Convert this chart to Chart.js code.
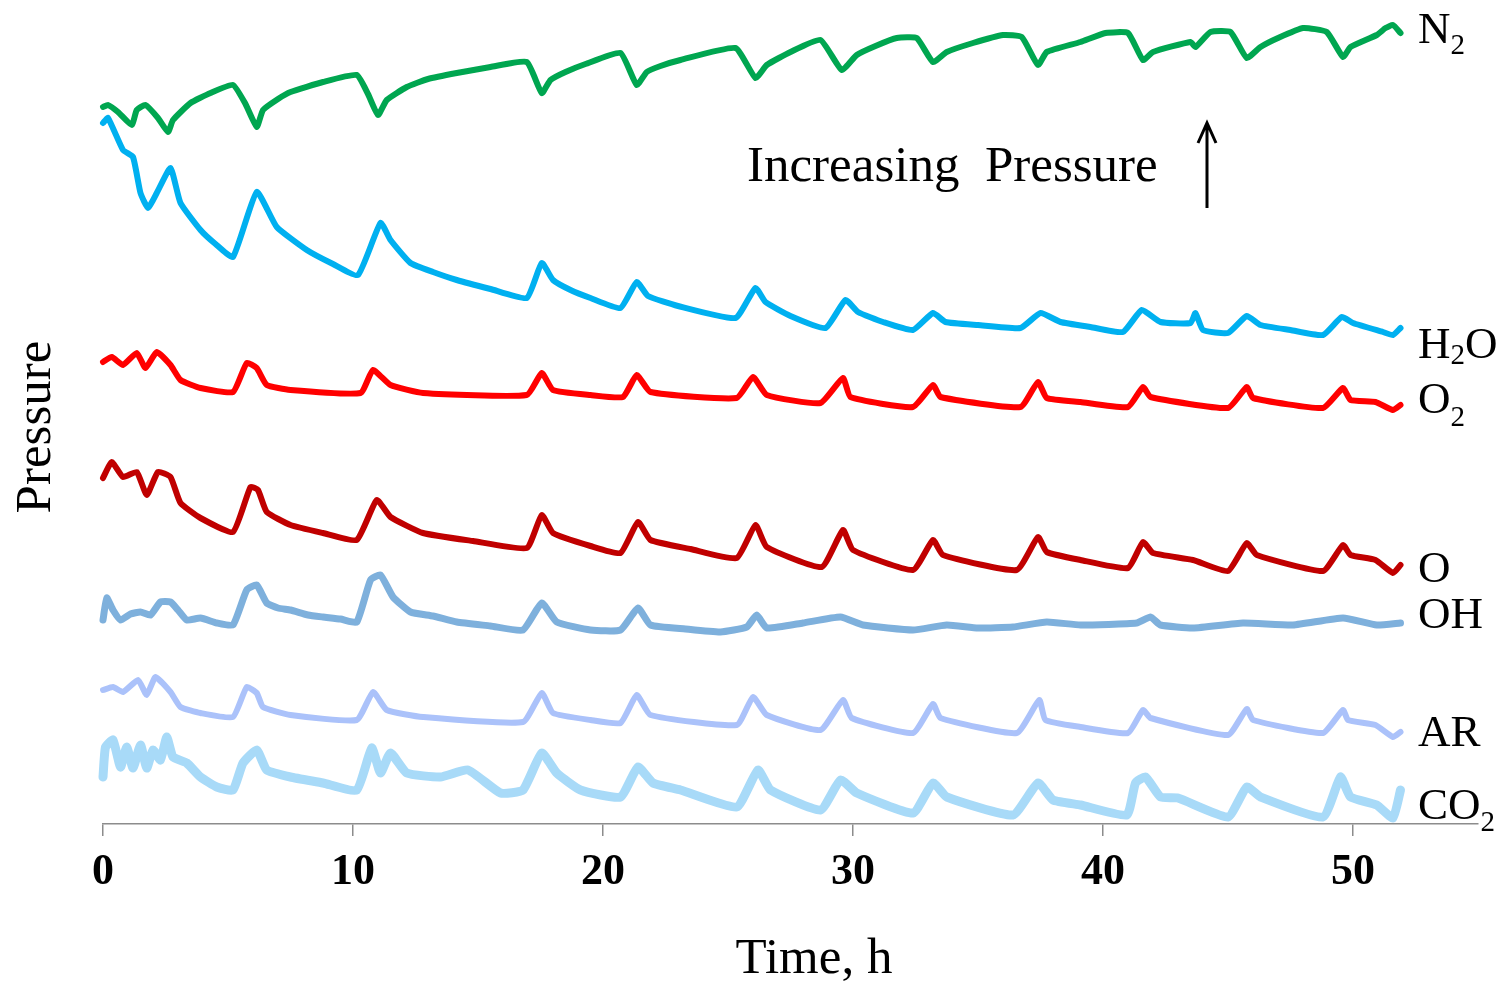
<!DOCTYPE html>
<html><head><meta charset="utf-8">
<script src="https://cdn.jsdelivr.net/npm/chart.js@4.4.0/dist/chart.umd.min.js"></script>
<style>html,body{margin:0;padding:0;background:#fff}canvas{display:block}</style>
</head><body>
<canvas id="c" width="1499" height="983"></canvas>
<script>
// Time axis (h)
const xTicks = [0, 10, 20, 30, 40, 50];

// Series (arbitrary pressure units), time in hours
const n2T = [0,0.2,0.6,1.15,1.35,1.7,2.2,2.6,2.8,3.5,4.3,5.2,5.7,6.15,6.4,7.0,7.5,8.8,10.15,10.6,11.0,11.35,12.15,13.0,14.15,15.5,16.95,17.55,17.9,18.5,19.3,20.7,21.35,21.75,22.3,23.1,25.3,26.1,26.55,27.5,28.7,29.55,30.15,30.9,31.75,32.55,33.2,33.75,34.8,36.0,36.75,37.4,37.75,39.1,40.1,41.0,41.6,42.0,43.5,43.7,44.3,45.1,45.75,46.3,47.0,48.0,48.95,49.6,49.9,50.95,51.3,51.6,51.9];
const n2P = [717,719,712,699,714,719,706,692,704,721,731,739,720,697,714,725,732,742,749,730,709,724,737,745,751,757,762,731,744,752,760,771,739,752,758,764,776,746,759,772,784,754,769,778,786,786,762,772,781,789,787,759,772,782,791,791,764,772,782,777,792,792,766,777,786,796,792,767,777,789,796,799,791];

const h2oT = [0,0.2,0.8,1.2,1.5,1.8,2.15,2.7,3.1,3.9,4.5,5.2,6.15,6.95,8.15,9.2,10.2,11.1,11.5,12.3,13.2,14.15,15.5,16.95,17.55,18.0,18.7,19.5,20.7,21.35,21.8,23.0,25.3,26.1,26.5,27.5,28.9,29.7,30.2,31.2,32.4,33.2,33.7,35.0,36.7,37.5,38.3,39.5,40.8,41.55,42.3,43.5,43.7,44.0,45.0,45.75,46.3,47.5,48.8,49.55,50.0,51.2,51.6,51.9];
const h2oP = [701,706,674,667,631,616,631,656,621,594,580,567,632,597,574,560,549,601,584,561,552,544,535,526,561,544,534,526,516,542,528,518,506,536,522,508,496,524,512,502,494,511,502,499,496,511,502,497,492,514,502,501,511,494,491,508,499,494,489,507,501,492,489,496];

const o2T = [0,0.35,0.8,1.35,1.7,2.15,2.7,3.1,3.9,5.2,5.75,6.15,6.55,7.5,10.3,10.8,11.5,12.8,16.95,17.55,18.0,19.5,20.8,21.35,21.9,25.35,26.0,26.55,28.7,29.6,29.9,32.4,33.2,33.5,36.7,37.4,37.75,39.1,41.0,41.6,41.9,45.0,45.75,46.0,48.8,49.6,49.9,50.9,51.6,51.9];
const o2P = [462,467,459,471,456,472,459,444,436,432,461,456,439,434,431,454,439,431,429,451,434,429,427,449,432,426,447,429,421,446,427,417,439,427,417,442,426,422,417,437,427,416,437,426,416,436,424,422,414,419];

const oT = [0,0.35,0.8,1.35,1.75,2.2,2.7,3.1,3.9,5.2,5.9,6.2,6.55,7.5,8.8,10.15,10.95,11.5,12.8,14.8,16.95,17.55,18.0,19.5,20.7,21.4,21.9,23.5,25.35,26.1,26.55,28.75,29.6,30.0,32.4,33.2,33.6,36.55,37.4,37.75,39.1,41.0,41.6,42.0,43.6,45.0,45.75,46.15,48.8,49.6,49.9,50.9,51.6,51.9];
const oP = [346,362,347,352,329,352,347,321,306,292,337,334,312,299,291,284,324,307,291,283,276,309,291,278,271,302,284,275,266,299,277,257,294,274,254,284,269,254,287,272,264,256,282,271,264,253,281,269,253,279,269,264,251,259];

const ohT = [0,0.15,0.4,0.7,1.1,1.5,1.9,2.3,2.7,3.0,3.35,3.9,4.55,5.2,5.75,6.15,6.55,7.0,7.5,8.2,8.8,9.5,10.15,10.7,11.1,11.6,12.3,13.2,14.15,15.5,16.8,17.55,18.15,19.5,20.7,21.4,21.9,23.3,24.7,25.75,26.15,26.55,28.0,29.5,30.4,32.4,33.75,35.0,36.4,37.75,39.1,41.35,41.9,42.3,43.6,45.6,47.6,49.6,50.95,51.9];
const ohP = [204,226,214,204,210,212,209,222,222,214,204,206,201,199,234,239,221,216,214,209,207,205,202,244,249,227,212,208,202,198,194,221,202,194,194,216,199,195,192,197,209,196,201,207,199,194,199,196,197,202,199,201,207,199,196,201,199,206,199,201];

const arT = [0,0.4,0.8,1.4,1.75,2.1,2.7,3.1,3.9,5.2,5.75,6.15,6.4,7.5,10.15,10.8,11.35,12.8,16.8,17.55,18.0,19.5,20.7,21.35,21.9,25.35,26.0,26.55,28.7,29.6,29.95,32.4,33.2,33.5,36.55,37.45,37.7,39.1,41.0,41.6,41.9,45.0,45.75,46.0,48.8,49.6,49.8,50.9,51.6,51.9];
const arP = [134,137,132,144,129,147,132,117,111,107,137,131,117,109,104,132,114,107,102,131,111,104,101,129,109,99,127,109,94,124,106,91,120,106,91,124,104,97,91,114,106,89,115,104,91,114,104,99,87,92];

const co2T = [0,0.1,0.4,0.7,0.95,1.2,1.5,1.75,2.0,2.3,2.55,2.8,3.35,3.9,4.55,5.2,5.6,6.15,6.55,7.5,8.8,10.15,10.75,11.1,11.5,12.15,13.5,14.6,15.9,16.8,17.55,18.15,19.1,20.7,21.4,22.0,23.1,25.35,26.2,26.7,28.7,29.5,30.15,32.4,33.2,33.75,36.4,37.4,38.0,39.1,40.95,41.3,41.7,42.3,43.0,45.0,45.75,46.3,48.8,49.5,49.9,50.95,51.6,51.9];
const co2P = [47,77,84,57,77,56,79,56,74,64,87,67,61,47,37,34,61,74,54,47,41,34,76,51,71,51,47,54,31,34,71,51,34,27,57,41,34,17,54,34,14,44,31,11,41,27,9,41,24,19,9,41,47,27,26,7,37,27,7,47,27,19,6,34];

const pts = (t, p) => t.map((x, i) => ({x: x, y: p[i]}));
const mk = (label, t, p, color, w) => ({
  label, data: pts(t, p), borderColor: color, backgroundColor: color,
  borderWidth: w, pointRadius: 0, tension: 0.15, fill: false,
  borderJoinStyle: 'round', borderCapStyle: 'round', clip: false
});

const SERIF = '"Liberation Serif", "Times New Roman", serif';

const textPlugin = {
  id: 'texts',
  afterDraw(chart) {
    const ctx = chart.ctx;
    ctx.save();
    ctx.fillStyle = '#000';
    ctx.textBaseline = 'alphabetic';
    ctx.font = '51px ' + SERIF;
    ctx.textAlign = 'center';
    ctx.fillText('Time, h', 814, 973);
    ctx.save();
    ctx.translate(50, 427);
    ctx.rotate(-Math.PI / 2);
    ctx.fillText('Pressure', 0, 0);
    ctx.restore();
    ctx.textAlign = 'left';
    ctx.fillText('Increasing  Pressure', 747, 181);
    ctx.strokeStyle = '#000';
    ctx.lineWidth = 3;
    ctx.beginPath();
    ctx.moveTo(1207, 208); ctx.lineTo(1207, 124);
    ctx.moveTo(1198, 143); ctx.lineTo(1207, 123); ctx.lineTo(1216, 143);
    ctx.stroke();
    const labels = [
      ['N', '2', '', 43, 11],
      ['H', '2', 'O', 358, 6],
      ['O', '2', '', 413, 13],
      ['O', '', '', 582, 0],
      ['OH', '', '', 628, 0],
      ['AR', '', '', 746, 0],
      ['CO', '2', '', 819, 12]
    ];
    labels.forEach(([a, sub, b, y, off]) => {
      let x = 1418;
      ctx.font = '45px ' + SERIF;
      ctx.fillText(a, x, y);
      x += ctx.measureText(a).width;
      if (sub) {
        ctx.font = '29px ' + SERIF;
        ctx.fillText(sub, x, y + off);
        x += ctx.measureText(sub).width;
      }
      if (b) {
        ctx.font = '45px ' + SERIF;
        ctx.fillText(b, x, y);
      }
    });
    ctx.restore();
  }
};

new Chart(document.getElementById('c'), {
  type: 'line',
  data: {
    datasets: [
      mk('CO2', co2T, co2P, '#A8DAF8', 9),
      mk('AR', arT, arP, '#ABC2FA', 6),
      mk('OH', ohT, ohP, '#7EB0DC', 7),
      mk('O', oT, oP, '#C00000', 6),
      mk('O2', o2T, o2P, '#FF0000', 6),
      mk('H2O', h2oT, h2oP, '#00B0F0', 6),
      mk('N2', n2T, n2P, '#00A650', 6)
    ]
  },
  options: {
    responsive: false,
    devicePixelRatio: 1,
    animation: false,
    layout: { padding: { left: 103, right: 21, top: 0, bottom: 0 } },
    plugins: { legend: { display: false }, tooltip: { enabled: false } },
    scales: {
      x: {
        type: 'linear', min: 0, max: 55, position: 'bottom',
        afterBuildTicks: (s) => { s.ticks = xTicks.map(v => ({ value: v })); },
        afterFit: (s) => { s.height = 159; },
        ticks: {
          stepSize: 10, color: '#000', padding: 10, maxRotation: 0,
          font: { family: SERIF, size: 44, weight: 'bold' }
        },
        grid: { display: true, drawOnChartArea: false, drawTicks: true, tickLength: 12, color: '#8c8c8c', lineWidth: 1.5 },
        border: { display: true, color: '#8c8c8c', width: 1.5 }
      },
      y: { display: false, min: 0, max: 824 }
    }
  },
  plugins: [textPlugin]
});
</script>
</body></html>
